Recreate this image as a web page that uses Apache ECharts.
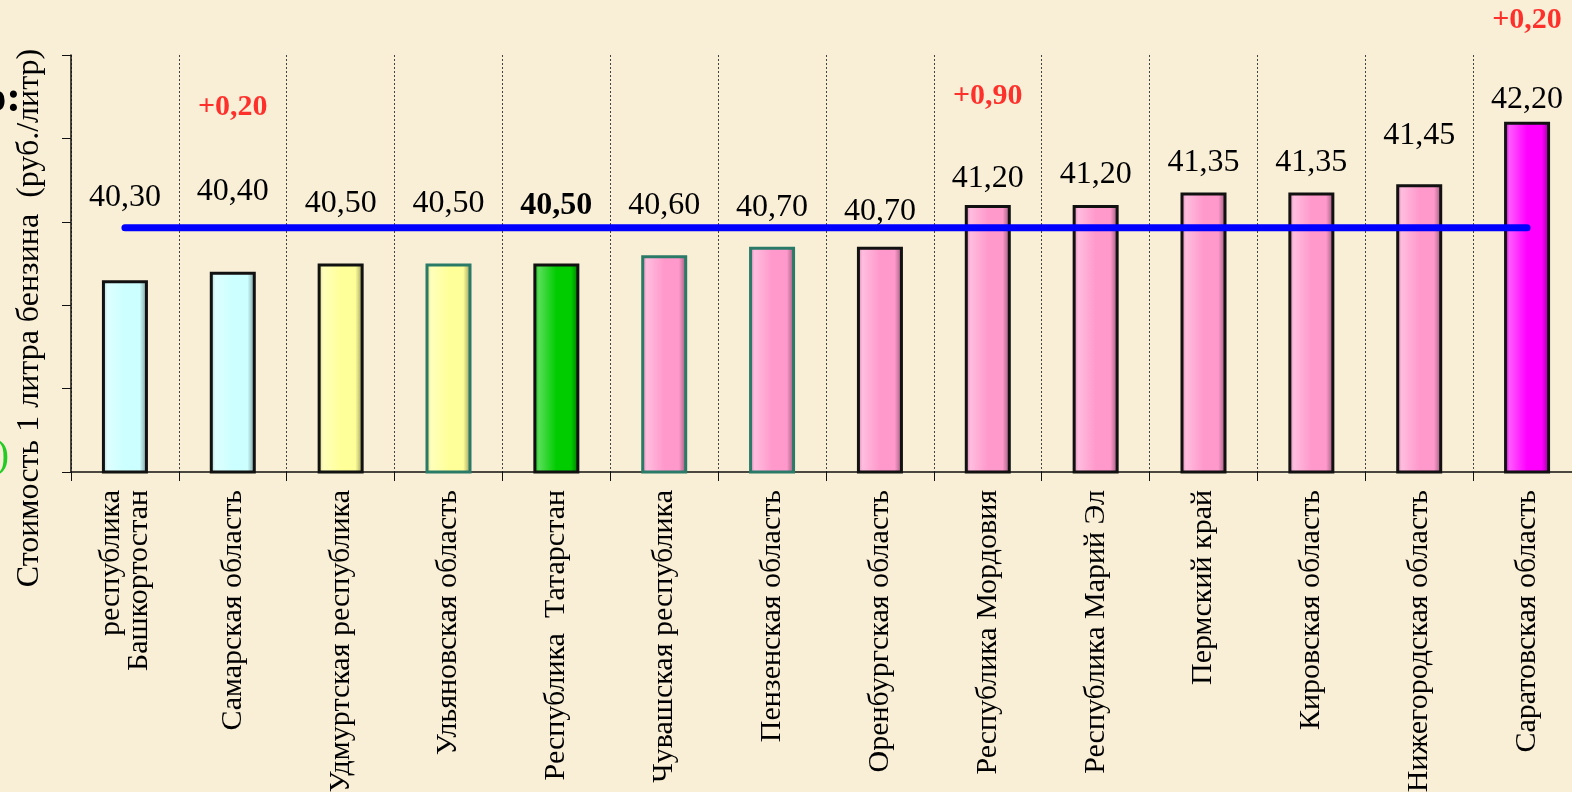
<!DOCTYPE html>
<html>
<head>
<meta charset="utf-8">
<title>Стоимость бензина</title>
<script src="https://cdn.jsdelivr.net/npm/echarts@6/dist/echarts.min.js"></script>
<style>
html, body { margin: 0; padding: 0; background: #f9efd7; }
#box { width: 1572px; height: 792px; }
</style>
</head>
<body>
<div id="box"></div>
<script>
// regions, price per litre, change since last check, average line
var regions = [
	'республика\nБашкортостан', 'Самарская область', 'Удмуртская республика',
	'Ульяновская область', 'Республика  Татарстан', 'Чувашская республика',
	'Пензенская область', 'Оренбургская область', 'Республика Мордовия',
	'Республика Марий Эл', 'Пермский край', 'Кировская область',
	'Нижегородская область', 'Саратовская область'
];
var prices = [40.30, 40.40, 40.50, 40.50, 40.50, 40.60, 40.70, 40.70, 41.20, 41.20, 41.35, 41.35, 41.45, 42.20];
var changes = [null, 0.20, null, null, null, null, null, null, 0.90, null, null, null, null, 0.20];
var averagePrice = [40.93, 40.93, 40.93, 40.93, 40.93, 40.93, 40.93, 40.93, 40.93, 40.93, 40.93, 40.93, 40.93, 40.93];

// look of each bar
var barFill = ['#ccffff', '#ccffff', '#ffff99', '#ffff99', '#00cc00', '#ff99cc', '#ff99cc',
	'#ff99cc', '#ff99cc', '#ff99cc', '#ff99cc', '#ff99cc', '#ff99cc', '#ff00ff'];
var barEdge = ['#111', '#111', '#111', '#2a7a68', '#111', '#2a7a68', '#2a7a68',
	'#111', '#111', '#111', '#111', '#111', '#111', '#111'];
var labelGap = [67, 64, 44, 44, 42, 34, 23, 19, 11, 15, 14, 14, 33, 6];
var changeGap = [0, 149, 0, 0, 0, 0, 0, 0, 93, 0, 0, 0, 0, 86];

var serif = '"Liberation Serif", "Times New Roman", serif';

function shade(hex, k) {
	var n = parseInt(hex.slice(1), 16);
	var r = (n >> 16) & 255, g = (n >> 8) & 255, b = n & 255;
	function f(c) { return Math.max(0, Math.min(255, Math.round(k > 0 ? c + (255 - c) * k : c * (1 + k)))); }
	return 'rgb(' + f(r) + ',' + f(g) + ',' + f(b) + ')';
}

function fmt(v) { return v.toFixed(2).replace('.', ','); }

var chart = echarts.init(document.getElementById('box'));

var barData = prices.map(function (p, i) {
	var c = barFill[i];
	return {
		value: p,
		itemStyle: {
			color: new echarts.graphic.LinearGradient(0, 0, 1, 0, [
				{ offset: 0, color: shade(c, -0.2) },
				{ offset: 0.12, color: shade(c, 0.35) },
				{ offset: 0.5, color: c },
				{ offset: 0.82, color: c },
				{ offset: 1, color: shade(c, -0.45) }
			]),
			borderColor: barEdge[i]
		},
		label: {
			distance: labelGap[i],
			fontWeight: i === 4 ? 'bold' : 'normal'
		}
	};
});

var changeData = changes.map(function (c, i) {
	if (c === null) return '-';
	return { value: prices[i], label: { distance: changeGap[i] } };
});

var option = {
	backgroundColor: '#f9efd7',
	animation: false,
	grid: { left: 71, top: 55, bottom: 320, width: 1510, outerBoundsMode: 'none', containLabel: false },
	xAxis: {
		type: 'category',
		data: regions,
		axisLine: { lineStyle: { color: '#111', width: 1.5 } },
		axisTick: { show: true, length: 9, lineStyle: { color: '#111' } },
		axisLabel: {
			rotate: 90,
			interval: 0,
			margin: 18,
			color: '#000',
			fontFamily: serif,
			fontSize: 30,
			lineHeight: 28
		},
		splitLine: { show: true, lineStyle: { color: '#444', type: [2, 2], width: 1 } }
	},
	yAxis: {
		type: 'value',
		min: 38,
		max: 43,
		interval: 1,
		axisLabel: { show: false },
		axisLine: { show: true, lineStyle: { color: '#111', width: 1.5 } },
		axisTick: { show: true, length: 9, lineStyle: { color: '#111' } },
		splitLine: { show: false }
	},
	series: [
		{
			name: 'Стоимость',
			type: 'bar',
			barWidth: 46,
			data: barData,
			itemStyle: { borderWidth: 3 },
			label: {
				show: true,
				position: 'top',
				color: '#000',
				fontFamily: serif,
				fontSize: 32,
				formatter: function (p) { return fmt(p.value); }
			}
		},
		{
			name: 'Изменение',
			type: 'scatter',
			data: changeData,
			symbolSize: 1,
			itemStyle: { color: 'rgba(0,0,0,0)' },
			label: {
				show: true,
				position: 'top',
				color: '#ff0000',
				fontFamily: serif,
				fontWeight: 'bold',
				fontSize: 30,
				formatter: function (p) { return '+' + fmt(changes[p.dataIndex]); }
			},
			z: 6
		},
		{
			name: 'Среднее',
			type: 'line',
			data: averagePrice,
			symbol: 'none',
			lineStyle: { color: '#0000ff', width: 7, cap: 'round' },
			z: 5
		}
	],
	graphic: [
		{
			type: 'text',
			x: 30,
			y: 318,
			rotation: Math.PI / 2,
			style: {
				text: 'Стоимость 1 литра бензина  (руб./литр)',
				font: '32px ' + serif,
				fill: '#000',
				align: 'center',
				verticalAlign: 'middle'
			}
		},
		{
			type: 'text',
			x: 21,
			y: 100,
			style: {
				text: 'о:',
				font: 'bold 44px ' + serif,
				fill: '#000',
				align: 'right',
				verticalAlign: 'middle'
			}
		},
		{
			type: 'text',
			x: 9,
			y: 456,
			style: {
				text: ')',
				font: '40px ' + serif,
				fill: '#22cc22',
				align: 'right',
				verticalAlign: 'middle'
			}
		}
	]
};

chart.setOption(option);
</script>
</body>
</html>
